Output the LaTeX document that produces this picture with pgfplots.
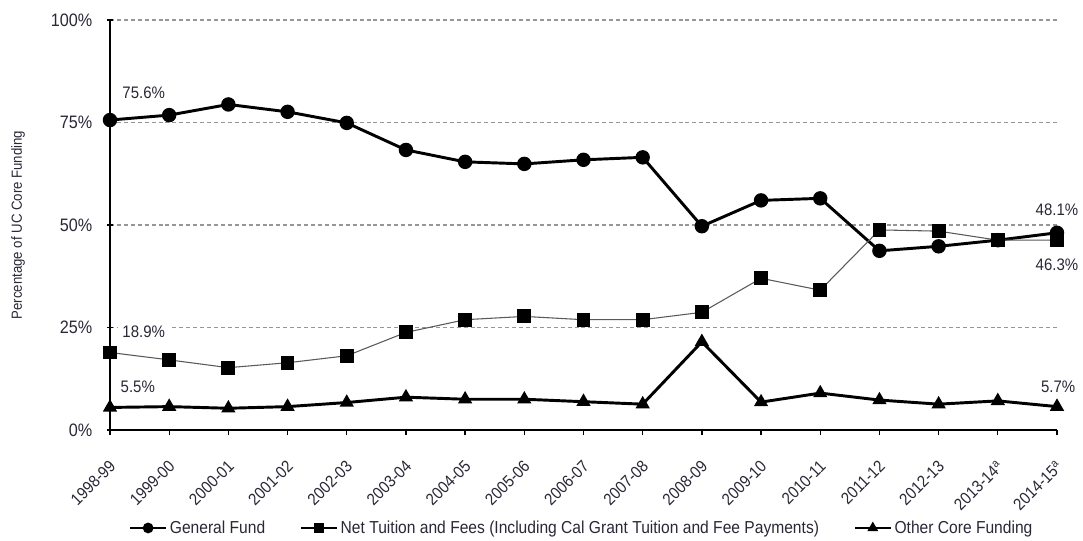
\documentclass[border=0pt]{standalone}
\usepackage{fontspec}
\setmainfont{Liberation Sans}[FakeStretch=0.9]
\usepackage{pgfplots}
\pgfplotsset{compat=1.18}

\definecolor{txt}{RGB}{40,40,55}
\definecolor{gridgray}{RGB}{150,150,150}

% Shares of UC core funding by source (percent)
\pgfplotstableread{
x gf net other
0  75.6 18.9 5.5
1  76.8 17.1 5.7
2  79.4 15.2 5.3
3  77.6 16.4 5.7
4  74.9 18.1 6.7
5  68.3 23.8 8.0
6  65.4 26.9 7.5
7  64.9 27.7 7.5
8  65.9 26.9 6.9
9  66.5 26.9 6.3
10 49.7 28.7 21.5
11 56.0 37.0 6.8
12 56.5 34.1 9.0
13 43.7 48.8 7.3
14 44.8 48.5 6.3
15 46.3 46.3 7.1
16 48.1 46.3 5.7
}\funding

\begin{document}
\begin{tikzpicture}
\useasboundingbox (-82.5pt,-83.25pt) rectangle (729.75pt,322.5pt);
\begin{axis}[
  width=710.25pt, height=307.5pt, scale only axis,
  xmin=0, xmax=16, ymin=0, ymax=100,
  axis lines*=left,
  axis line style={line width=1.2pt, black},
  xtick={0,...,16},
  xticklabels={1998-99,1999-00,2000-01,2001-02,2002-03,2003-04,2004-05,2005-06,2006-07,2007-08,2008-09,2009-10,2010-11,2011-12,2012-13,2013-14\textsuperscript{a},2014-15\textsuperscript{a}},
  ytick={0,25,50,75,100},
  yticklabels={0\%,25\%,50\%,75\%,100\%},
  xtick align=outside, ytick align=center,
  major tick length=4pt,
  tick style={line width=1pt, black},
  ymajorgrids,
  grid style={gridgray, line width=0.9pt, dash pattern=on 3pt off 2.2pt},
  xticklabel style={font=\fontsize{12.5}{14}\selectfont, text=txt, xshift=2pt, rotate=45, anchor=east, inner sep=0pt},
  xticklabel shift=21pt,
  yticklabel style={font=\fontsize{13.5}{15}\selectfont, text=txt, inner sep=0pt},
  yticklabel shift=11pt,
  ylabel={Percentage of UC Core Funding},
  ylabel style={font=\fontsize{11}{13}\selectfont, text=txt, at={(axis description cs:-0.097,0.5)}, anchor=center},
  legend columns=3,
  legend style={draw=none, fill=none, at={(0.4985,-0.2390)}, anchor=center,
    font=\fontsize{13}{15}\selectfont, text=txt,
    /tikz/every even column/.append style={column sep=24pt}},
  legend image code/.code={\draw[mark repeat=2, mark phase=2, #1] plot coordinates {(0pt,0pt) (13.5pt,0pt) (27pt,0pt)};},
  legend image post style={mark size=3.2pt, line width=1.6pt, black},
  clip=false,
]
\addplot[black, line width=2.2pt, mark=*, mark size=4.3pt] table[x=x, y=gf] {\funding};
\addlegendentry{General Fund}
\addplot[black!65, line width=0.8pt, mark=square*, mark size=4.8pt, mark options={black, solid}] table[x=x, y=net] {\funding};
\addlegendentry{Net Tuition and Fees (Including Cal Grant Tuition and Fee Payments)}
\addplot[black, line width=2.2pt, mark=triangle*, mark size=4pt] table[x=x, y=other] {\funding};
\addlegendentry{Other Core Funding}

\begin{scope}[every node/.style={font=\fontsize{12.5}{14}\selectfont, text=txt}]
\node at (axis cs:0.57,82.2) {75.6\%};
\node[fill=white, inner xsep=3pt, inner ysep=1pt] at (axis cs:0.57,23.9) {18.9\%};
\node at (axis cs:0.47,10.5) {5.5\%};
\node at (axis cs:16,53.7) {48.1\%};
\node at (axis cs:16,40.2) {46.3\%};
\node at (axis cs:16.02,10.6) {5.7\%};
\end{scope}
\end{axis}
\end{tikzpicture}
\end{document}
